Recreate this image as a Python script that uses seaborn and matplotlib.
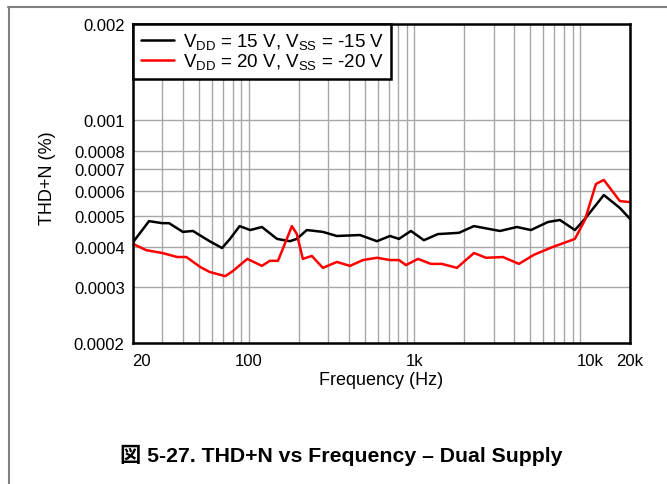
import pandas as pd
import matplotlib.pyplot as plt
import seaborn as sns
from matplotlib.lines import Line2D
from matplotlib.transforms import ScaledTranslation
from matplotlib.ticker import FixedLocator, NullLocator, NullFormatter

# Data
freq_15v = [20, 25, 30, 33, 40, 46, 58, 69, 77, 88, 102, 120, 148, 177, 195, 224,
            280, 340, 469, 594, 711, 806, 952, 1140, 1386, 1855, 2286, 3281, 4152,
            5048, 6394, 7552, 9300, 10690, 13900, 17380, 20000]
thd_15v = [0.000414, 0.000482, 0.000475, 0.000475, 0.000446, 0.000449, 0.000417,
           0.000397, 0.000424, 0.000465, 0.000452, 0.000462, 0.000424, 0.000417,
           0.000424, 0.000452, 0.000446, 0.000433, 0.000436, 0.000417, 0.000433,
           0.000424, 0.000449, 0.000420, 0.000439, 0.000443, 0.000465, 0.000449,
           0.000462, 0.000452, 0.000479, 0.000486, 0.000452, 0.000490, 0.000582,
           0.000530, 0.000490]

freq_20v = [20, 24, 30, 37, 42, 51, 58, 72, 80, 98, 120, 134, 150, 165, 182, 195,
            212, 240, 280, 340, 408, 489, 594, 711, 806, 889, 1050, 1257, 1466,
            1804, 2286, 2700, 3420, 4272, 5260, 6670, 9300, 10690, 12450, 13900,
            17380, 20000]
thd_20v = [0.000409, 0.000391, 0.000383, 0.000372, 0.000372, 0.000346, 0.000334,
           0.000324, 0.000336, 0.000367, 0.000349, 0.000362, 0.000362, 0.000409,
           0.000465, 0.000439, 0.000367, 0.000375, 0.000344, 0.000359, 0.000349,
           0.000364, 0.000370, 0.000364, 0.000364, 0.000351, 0.000367, 0.000354,
           0.000354, 0.000344, 0.000383, 0.000370, 0.000372, 0.000354, 0.000378,
           0.000398, 0.000424, 0.000486, 0.000630, 0.000649, 0.000557, 0.000553]

series_labels = [r'V$_{\mathrm{DD}}$ = 15 V, V$_{\mathrm{SS}}$ = -15 V',
                 r'V$_{\mathrm{DD}}$ = 20 V, V$_{\mathrm{SS}}$ = -20 V']
series_colors = ['#000000', '#ff0000']

y_ticks = [0.0002, 0.0003, 0.0004, 0.0005, 0.0006, 0.0007, 0.0008, 0.001, 0.002]
y_tick_labels = ['0.0002', '0.0003', '0.0004', '0.0005', '0.0006', '0.0007',
                 '0.0008', '0.001', '0.002']
x_ticks = [20, 100, 1000, 10000, 20000]
x_tick_labels = ['20', '100', '1k', '10k', '20k']
x_grid = [m * 10 ** d for d in range(1, 5) for m in range(1, 10)
          if 20 <= m * 10 ** d <= 20000]

sns.set_theme(style="white")
plt.rcParams['font.family'] = ['Liberation Sans', 'Noto Sans CJK JP', 'DejaVu Sans']
plt.rcParams['mathtext.fontset'] = 'custom'
plt.rcParams['mathtext.rm'] = 'Liberation Sans'
plt.rcParams['mathtext.it'] = 'Liberation Sans:italic'
plt.rcParams['text.color'] = 'black'
plt.rcParams['axes.labelcolor'] = 'black'

df = pd.concat([
    pd.DataFrame({'freq': freq_15v, 'thd': thd_15v, 'series': series_labels[0]}),
    pd.DataFrame({'freq': freq_20v, 'thd': thd_20v, 'series': series_labels[1]}),
])

fig = plt.figure(figsize=(6.67, 4.85), dpi=100)
ax = fig.add_axes([133 / 667, 1 - 344 / 485, 497 / 667, 319 / 485])

ax.set_xscale('log')
ax.set_yscale('log')
for xv in x_grid:
    ax.axvline(xv, color='#a8a8a8', lw=1, zorder=1)
for yv in y_ticks:
    ax.axhline(yv, color='#a8a8a8', lw=1, zorder=1)

sns.lineplot(data=df, x='freq', y='thd', hue='series', palette=series_colors,
             linewidth=1.8, ax=ax, sort=False, zorder=3)

ax.set_xlim(20, 20000)
ax.set_ylim(0.0002, 0.002)
ax.xaxis.set_major_locator(FixedLocator(x_ticks))
ax.set_xticklabels(x_tick_labels)
ax.xaxis.set_minor_locator(NullLocator())
ax.xaxis.set_minor_formatter(NullFormatter())
ax.yaxis.set_major_locator(FixedLocator(y_ticks))
ax.set_yticklabels(y_tick_labels)
ax.yaxis.set_minor_locator(NullLocator())
ax.yaxis.set_minor_formatter(NullFormatter())
ax.tick_params(axis='both', length=0, labelsize=12, colors='black')
ax.tick_params(axis='y', pad=6)
ax.tick_params(axis='x', pad=7)

# nudge the "20" and "10k" labels right like the reference
for lbl, dx in zip(ax.get_xticklabels(), [8, 0, 0, 10, 0]):
    if dx:
        lbl.set_transform(lbl.get_transform() + ScaledTranslation(dx / 100, 0, fig.dpi_scale_trans))

ax.set_xlabel('Frequency (Hz)', fontsize=13)
ax.xaxis.set_label_coords(0.5, (344 - 372) / 319)
ax.set_ylabel('THD+N (%)', fontsize=13)
ax.yaxis.set_label_coords((56 - 133) / 497, 0.52)

for sp in ax.spines.values():
    sp.set_color('black')
    sp.set_linewidth(1.8)
    sp.set_zorder(5)

leg = ax.legend(loc='upper left', borderaxespad=0, fontsize=13.5, frameon=True,
                fancybox=False, framealpha=1, edgecolor='black', handlelength=1.8,
                handletextpad=0.45, borderpad=0.4, labelspacing=0.0)
leg.get_frame().set_linewidth(1.8)
leg.set_title(None)

fig.text(0.512, 1 - 455 / 485, '図 5-27. THD+N vs Frequency – Dual Supply',
         ha='center', va='center', fontsize=15.3, fontweight='bold')

# page frame lines
fig.add_artist(Line2D([8 / 667, 1], [1 - 7.5 / 485, 1 - 7.5 / 485],
                      color='#808080', lw=1.5, transform=fig.transFigure))
fig.add_artist(Line2D([8.5 / 667, 8.5 / 667], [0, 1 - 7.5 / 485],
                      color='#808080', lw=1.5, transform=fig.transFigure))

fig.savefig('out.png', dpi=100)
